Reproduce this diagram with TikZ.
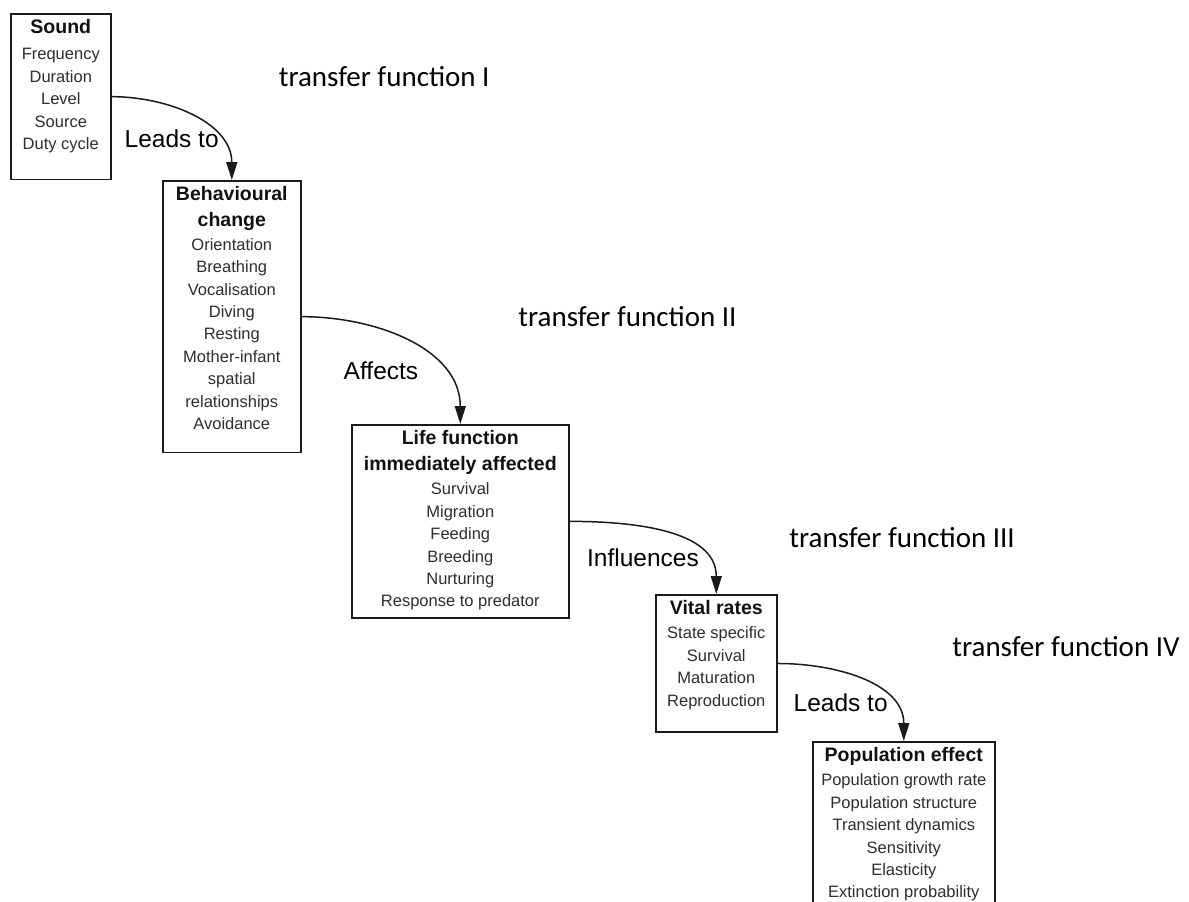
\documentclass[tikz,border=0pt]{standalone}
\usepackage{fontspec}
\setmainfont{Liberation Sans}
\newfontfamily\calibri{Carlito}
\usepackage{xcolor}
\usepackage{tikz}
\usetikzlibrary{arrows.meta, positioning, calc}
\definecolor{LineDark}{HTML}{1A1A1A}
\definecolor{TextDark}{HTML}{111111}
\definecolor{TextGray}{HTML}{2E2E2E}
\newcommand{\boxtitle}[1]{{\bfseries\fontsize{9.75}{11.2}\selectfont\color{TextDark}#1}}

\begin{document}
\begin{tikzpicture}[x=0.5pt, y=-0.5pt,
    effect/.style={
      draw=LineDark, line width=0.8pt, anchor=north west,
      align=center, inner xsep=0pt, inner ysep=3pt,
      font=\fontsize{8.25}{11.2}\selectfont\color{TextGray}
    },
    arr/.style={-{Triangle[length=9pt,width=5.5pt]}, line width=0.75pt, color=LineDark},
    verb/.style={font=\fontsize{12.25}{14}\selectfont, inner sep=0pt},
    tf/.style={font=\calibri\fontsize{14.5}{17}\selectfont, inner sep=0pt}
  ]
    \clip (0,0) rectangle (1189,901);
    \fill[white] (0,0) rectangle (1189,901);

    % Sound
    \node[effect, minimum width=50pt, text depth=12pt] (sound) at (10,13)
      {\boxtitle{Sound}\\[1.8pt]
       Frequency\\ Duration\\ Level\\ Source\\ Duty cycle};

    % Behavioural change
    \node[effect, minimum width=69pt, text depth=8.5pt] (behav) at (162,180)
      {\boxtitle{Behavioural}\\[1.8pt]\boxtitle{change}\\[0.5pt]
       Orientation\\ Breathing\\ Vocalisation\\ Diving\\ Resting\\
       Mother-infant\\ spatial\\ relationships\\ Avoidance};

    % Life function
    \node[effect, minimum width=108.5pt, text depth=2.5pt] (life) at (351,424)
      {\boxtitle{Life function}\\[1.8pt]\boxtitle{immediately affected}\\[0.8pt]
       Survival\\ Migration\\ Feeding\\ Breeding\\ Nurturing\\
       Response to predator};

    % Vital rates
    \node[effect, minimum width=60.5pt, text depth=10pt] (vital) at (655,594)
      {\boxtitle{Vital rates}\\[0.8pt]
       State specific\\ Survival\\ Maturation\\ Reproduction};

    % Population effect
    \node[effect, minimum width=91pt, text depth=14pt] (pop) at (812,741)
      {\boxtitle{Population effect}\\[0.8pt]
       Population growth rate\\ Population structure\\ Transient dynamics\\
       Sensitivity\\ Elasticity\\ Extinction probability};

    % Arrows
    \draw[arr] (sound.east) to[out=0, in=90] (behav.north);
    \draw[arr] (behav.east) to[out=0, in=90] (life.north);
    \draw[arr] (life.east)  to[out=0, in=90] (vital.north);
    \draw[arr] (vital.east) to[out=0, in=90] (pop.north);

    % Arrow labels
    \node[verb] (lead1) at ($(sound.east)!0.5!(behav.north)$) {Leads to};
    \node[verb] (aff)   at ($(behav.east)!0.5!(life.north)$)  {Affects};
    \node[verb] (infl)  at ($(life.east)!0.5!(vital.north)$)  {Influences};
    \node[verb] (lead2) at ($(vital.east)!0.5!(pop.north)$)   {Leads to};

    % Transfer functions
    \node[tf, anchor=east] (tf1) at (490,77)   {transfer function I};
    \node[tf, anchor=west] (tf2) at (518,317)  {transfer function II};
    \node[tf, anchor=west] (tf3) at (789,538)  {transfer function III};
    \node[tf, anchor=east] (tf4) at (1180,647) {transfer function IV};
  \end{tikzpicture}
\end{document}
